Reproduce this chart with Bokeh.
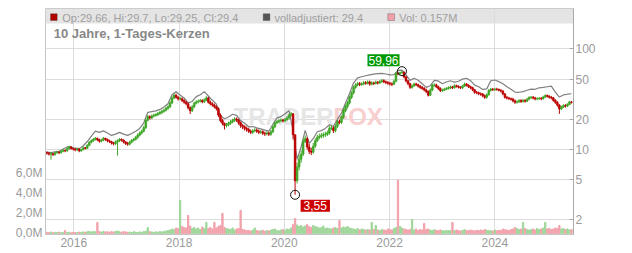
import pandas as pd
from bokeh.plotting import figure
from bokeh.models import (Range1d, LinearAxis, LinearScale, FixedTicker, CustomJSTickFormatter,
                          Label, BoxAnnotation, ColumnDataSource, PrintfTickFormatter)
from bokeh.embed import file_html
from bokeh.resources import INLINE

# ---------------- data ----------------
START = "2015-06-29"          # first candle, one candle per 14 days
first_open = 9.3
closes = [
    9.2, 9.0, 9.1, 8.9, 9.3, 9.4, 9.3, 9.6, 9.8, 9.7, 10.2, 10.6, 10.2, 10.1, 9.9, 10.1, 9.7, 10.0, 10.4, 10.3,
    11.0, 11.8, 12.2, 12.6, 12.9, 12.5, 12.1, 12.4, 12.9, 12.6, 12.2, 12.0, 11.6, 11.4, 11.9, 12.2, 12.6, 12.4, 11.9, 11.5,
    11.3, 11.8, 12.3, 12.6, 13.2, 13.9, 14.6, 15.2, 16.5, 19.5, 21.2, 20.6, 21.5, 21.9, 22.2, 22.8, 23.3, 24.0, 24.6, 25.6,
    26.5, 29.0, 32.5, 34.5, 33.0, 31.8, 32.0, 30.6, 29.5, 28.5, 26.0, 24.3, 26.5, 28.8, 29.6, 30.2, 30.6, 29.8, 31.0, 32.5,
    29.5, 28.4, 27.6, 26.6, 25.5, 22.0, 19.4, 18.2, 17.3, 17.6, 18.2, 18.8, 19.4, 20.1, 19.6, 18.4, 17.3, 16.8, 16.2, 15.8,
    15.2, 14.8, 15.3, 15.6, 15.2, 14.8, 15.0, 14.5, 14.3, 14.6, 14.2, 15.0, 16.8, 18.4, 18.9, 19.3, 19.6, 19.2, 19.8, 20.6,
    22.0, 22.6, 14.0, 4.9, 6.7, 8.0, 9.0, 12.0, 12.8, 10.6, 9.6, 9.4, 10.8, 12.2, 13.2, 13.5, 13.8, 14.0, 14.2, 14.6,
    16.2, 16.4, 15.4, 17.0, 19.0, 18.6, 21.0, 24.3, 26.8, 29.0, 33.0, 36.5, 41.4, 43.8, 45.0, 44.2, 44.7, 46.0, 45.4, 46.8,
    44.6, 45.8, 45.2, 46.6, 45.8, 47.2, 48.2, 47.0, 46.2, 45.6, 44.8, 44.5, 47.5, 57.0, 56.2, 57.8, 58.9, 52.5, 48.0, 45.0,
    41.4, 42.8, 44.7, 44.0, 42.6, 41.4, 40.4, 39.0, 37.6, 34.6, 39.0, 43.4, 43.8, 42.0, 40.4, 38.4, 38.8, 39.7, 40.2, 41.0,
    41.8, 41.0, 43.0, 42.4, 41.6, 41.0, 42.6, 44.7, 43.4, 42.0, 41.0, 39.2, 37.0, 36.6, 35.8, 35.4, 34.2, 33.0, 35.0, 38.6,
    39.7, 39.2, 39.8, 39.4, 38.8, 38.0, 35.6, 33.0, 32.4, 32.0, 31.6, 30.4, 29.4, 29.8, 30.6, 30.0, 30.6, 30.2, 31.6, 32.8,
    33.0, 32.4, 31.8, 32.0, 32.2, 32.0, 33.2, 34.3, 33.8, 33.0, 32.6, 30.8, 29.4, 27.6, 25.3, 26.4, 27.3, 27.0, 28.0, 29.7, 29.4,
]
highs = [
    9.6, 9.4, 9.4, 9.3, 9.5, 9.7, 9.6, 9.8, 10.1, 10.0, 10.5, 10.9, 10.8, 10.4, 10.3, 10.4, 10.2, 10.2, 10.7, 10.6,
    11.3, 12.1, 12.6, 13.0, 13.3, 13.1, 12.8, 12.8, 13.3, 13.1, 12.8, 12.5, 12.2, 11.9, 12.3, 12.6, 13.0, 12.9, 12.6, 12.1,
    11.9, 12.2, 12.7, 13.0, 13.6, 14.4, 15.1, 15.8, 17.2, 20.2, 22.0, 21.8, 22.3, 22.7, 23.0, 23.6, 24.2, 24.9, 25.5, 26.6,
    27.6, 30.2, 33.8, 36.0, 35.8, 34.2, 33.4, 32.8, 31.6, 30.4, 29.2, 26.8, 27.6, 29.8, 30.8, 31.4, 31.8, 31.6, 32.2, 33.8,
    33.4, 30.6, 29.4, 28.6, 27.4, 26.2, 22.8, 20.2, 18.5, 18.3, 18.9, 19.6, 20.2, 20.9, 20.8, 20.2, 19.0, 17.9, 17.4, 16.9,
    16.4, 15.8, 15.9, 16.3, 16.2, 15.8, 15.6, 15.5, 15.0, 15.2, 15.0, 15.6, 17.4, 19.1, 19.6, 20.0, 20.4, 20.2, 20.6, 21.4,
    22.8, 23.6, 23.0, 14.0, 7.4, 8.8, 9.8, 12.8, 13.8, 13.2, 11.4, 10.4, 11.6, 12.9, 14.0, 14.4, 14.6, 14.8, 15.0, 15.4,
    17.2, 17.4, 17.0, 17.8, 19.8, 19.8, 21.8, 25.4, 28.0, 30.4, 34.4, 38.0, 43.0, 45.6, 47.0, 46.8, 46.6, 48.0, 47.8, 48.6,
    48.4, 47.6, 47.2, 48.4, 48.0, 49.0, 50.2, 49.8, 48.4, 47.8, 47.0, 46.4, 49.4, 58.6, 58.8, 59.2, 59.96, 59.0, 53.6, 49.0,
    46.0, 44.2, 46.2, 46.0, 45.0, 43.6, 42.6, 41.6, 40.2, 38.6, 40.4, 44.8, 45.4, 45.0, 43.0, 41.4, 40.2, 41.0, 41.6, 42.4,
    43.0, 42.8, 44.4, 44.0, 43.4, 42.4, 43.8, 46.0, 45.6, 44.4, 43.0, 42.0, 40.0, 38.2, 37.6, 36.8, 36.4, 35.2, 36.0, 39.8,
    40.8, 40.8, 41.0, 41.0, 40.4, 39.8, 38.8, 36.4, 34.0, 33.4, 32.8, 32.6, 31.4, 30.8, 31.6, 31.6, 31.8, 31.6, 32.6, 33.8,
    34.0, 34.0, 33.4, 33.0, 33.2, 33.2, 34.2, 35.2, 35.2, 34.6, 34.0, 33.2, 31.6, 30.2, 28.2, 27.2, 28.2, 28.2, 28.8, 30.4, 30.2,
]
lows = [
    8.9, 8.7, 7.9, 8.6, 8.7, 9.1, 9.0, 9.1, 9.4, 9.4, 9.5, 10.0, 10.0, 9.8, 9.6, 9.7, 9.4, 9.5, 9.8, 10.0,
    10.1, 10.8, 11.5, 11.9, 12.3, 12.1, 11.7, 11.8, 12.1, 12.2, 11.8, 11.6, 11.2, 11.0, 11.1, 8.7, 11.9, 12.0, 11.5, 11.1,
    10.9, 11.0, 11.5, 12.0, 12.3, 12.8, 13.5, 14.1, 14.8, 16.0, 19.0, 19.8, 20.0, 20.9, 21.2, 21.5, 22.0, 22.5, 23.2, 23.8,
    24.8, 25.8, 28.2, 31.6, 32.0, 30.6, 30.8, 29.6, 28.5, 27.4, 25.0, 22.5, 23.5, 25.8, 28.0, 28.8, 29.4, 28.8, 28.9, 30.2,
    28.6, 27.4, 26.6, 25.6, 24.4, 21.0, 18.6, 17.4, 15.8, 16.6, 17.0, 17.6, 18.2, 18.8, 18.8, 17.6, 16.4, 15.9, 15.4, 15.0,
    14.6, 14.2, 14.3, 14.9, 14.6, 14.2, 14.3, 13.9, 13.6, 13.8, 13.6, 13.7, 14.6, 16.3, 17.9, 18.3, 18.6, 18.5, 18.7, 19.3,
    19.8, 21.2, 12.6, 3.55, 4.6, 6.2, 7.4, 8.6, 11.6, 10.0, 9.0, 8.8, 9.1, 10.4, 11.8, 12.6, 12.9, 13.1, 13.3, 13.6,
    14.0, 15.6, 14.6, 14.8, 16.4, 17.8, 18.0, 20.2, 23.4, 25.6, 28.0, 31.8, 35.2, 40.0, 42.4, 42.6, 42.8, 43.6, 44.0, 44.2,
    43.0, 43.4, 43.6, 44.4, 44.2, 44.8, 46.0, 45.6, 44.6, 43.8, 43.0, 42.6, 43.6, 46.6, 54.6, 55.0, 57.0, 51.0, 46.4, 43.4,
    40.0, 40.2, 41.8, 42.6, 41.2, 40.0, 39.2, 37.8, 36.2, 33.6, 34.0, 37.8, 42.0, 40.8, 39.0, 37.2, 37.4, 38.0, 38.8, 39.4,
    39.8, 39.8, 40.2, 41.2, 40.4, 39.8, 40.0, 41.8, 42.2, 40.8, 39.8, 38.0, 35.8, 35.4, 34.6, 34.2, 33.0, 31.8, 32.0, 34.2,
    37.6, 38.2, 38.2, 38.4, 37.8, 36.8, 34.6, 32.0, 31.4, 31.0, 30.6, 29.4, 28.4, 28.6, 29.0, 29.0, 29.2, 29.2, 29.6, 30.8,
    31.8, 31.4, 30.8, 30.8, 31.0, 30.8, 31.2, 32.4, 32.8, 32.0, 31.4, 29.8, 28.4, 26.6, 22.6, 24.6, 25.8, 26.0, 26.4, 27.6, 28.6,
]
# "volladjustiert" line, one point per 28 days
adjusted = [
    9.4, 9.3, 9.5, 9.6, 10.1, 10.6, 10.6, 10.3, 10.2, 10.9, 12.0, 13.6, 15.2, 14.8, 15.3, 14.6, 13.8, 14.2, 14.8, 14.2,
    13.8, 14.4, 15.2, 16.2, 18.4, 23.4, 23.8, 24.2, 25.0, 26.4, 28.5, 35.0, 37.5, 34.8, 32.5, 29.0, 30.0, 33.5, 35.0, 37.5,
    34.0, 30.8, 28.2, 21.7, 20.2, 21.0, 22.4, 21.8, 19.4, 18.2, 16.8, 16.9, 16.4, 16.0, 15.6, 15.2, 17.8, 20.6, 21.2, 22.6,
    24.3, 15.5, 8.0, 10.6, 15.5, 11.5, 12.8, 15.0, 15.4, 16.2, 17.6, 17.0, 20.0, 23.0, 29.0, 36.0, 46.0, 51.5, 52.8, 54.0,
    55.0, 56.0, 56.8, 57.0, 56.2, 55.0, 55.5, 61.0, 61.5, 55.0, 48.6, 51.0, 48.8, 45.0, 41.4, 43.0, 48.5, 48.0, 45.0, 46.8,
    48.2, 46.6, 47.6, 50.0, 51.0, 48.2, 43.6, 42.0, 39.5, 40.0, 48.2, 49.0, 47.2, 45.0, 42.0, 39.6, 37.2, 37.0, 37.6, 38.8,
    39.8, 39.6, 41.0, 41.4, 42.0, 42.6, 37.2, 33.2, 34.8, 35.4, 35.8,
]
# volume in millions, one bar per candle
volume_m = [
    0.12, 0.10, 0.15, 0.08, 0.12, 0.10, 0.14, 0.09, 0.11, 0.30, 0.10, 0.13, 0.08, 0.12, 0.10, 0.09, 0.14, 0.11, 0.16, 0.12,
    0.18, 0.22, 0.15, 0.20, 0.17, 1.10, 0.19, 0.14, 0.21, 0.16, 0.18, 0.13, 0.20, 0.15, 0.22, 0.25, 0.17, 0.14, 0.19, 0.16,
    0.12, 0.15, 0.10, 0.18, 0.14, 0.11, 0.16, 0.13, 0.20, 0.22, 0.60, 0.18, 0.15, 0.12, 0.17, 0.14, 0.19, 0.16, 0.21, 0.25,
    0.30, 0.35, 0.45, 0.40, 0.55, 0.50, 3.30, 0.70, 0.60, 0.55, 1.80, 0.75, 0.50, 0.60, 0.45, 0.55, 0.40, 0.65, 0.50, 1.10,
    0.50, 0.60, 0.45, 1.10, 0.55, 0.70, 0.80, 2.00, 0.60, 0.50, 0.45, 0.40, 0.55, 0.35, 0.45, 0.50, 2.30, 0.40, 0.35, 0.30,
    0.30, 0.25, 0.35, 0.55, 0.30, 0.25, 0.28, 0.32, 0.22, 0.30, 0.26, 0.35, 0.40, 0.45, 0.30, 0.28, 0.35, 0.40, 0.32, 0.45,
    0.40, 0.55, 0.90, 1.50, 0.85, 0.70, 0.80, 0.65, 0.75, 0.90, 0.70, 0.60, 0.80, 0.70, 0.65, 0.55, 0.60, 0.75, 0.50, 0.55,
    0.50, 0.45, 0.55, 0.60, 0.50, 1.30, 0.55, 0.65, 0.60, 0.70, 0.55, 0.50, 0.45, 0.40, 0.50, 0.35, 0.45, 0.40, 0.35, 0.40,
    0.35, 1.10, 0.40, 0.80, 0.35, 0.30, 0.40, 0.35, 0.30, 0.45, 0.40, 0.35, 0.50, 0.60, 5.30, 0.70, 0.55, 0.45, 0.40, 0.35,
    0.40, 1.40, 0.35, 0.45, 0.30, 0.40, 0.35, 1.00, 0.40, 0.45, 0.35, 0.30, 0.38, 0.32, 0.28, 0.35, 0.30, 0.25, 0.32, 0.28,
    0.30, 1.10, 0.28, 0.35, 0.30, 0.25, 0.32, 0.38, 0.30, 0.28, 0.35, 0.30, 0.25, 0.32, 0.28, 0.35, 0.30, 0.40, 0.32, 0.28,
    0.30, 0.25, 0.35, 0.28, 0.32, 0.30, 0.45, 0.38, 0.35, 0.30, 0.40, 0.45, 0.60, 0.50, 0.40, 0.45, 1.10, 0.50, 0.40, 0.35,
    0.40, 0.45, 0.35, 0.50, 0.40, 0.45, 0.55, 1.10, 0.45, 0.50, 0.40, 0.45, 0.55, 0.50, 0.80, 0.45, 0.50, 0.40, 0.45, 0.35, 0.40,
]

price_ticks = [2, 5, 10, 20, 50, 100]
volume_ticks = [0, 2, 4, 6]
year_ticks = ["2016-01-01", "2018-01-01", "2020-01-01", "2022-01-01", "2024-01-01"]

header_ohlc = "Op:29.66, Hi:29.7, Lo:29.25, Cl:29.4"
header_adj = "volladjustiert: 29.4"
header_vol = "Vol: 0.157M"
chart_title = "10 Jahre, 1-Tages-Kerzen"
watermark_a, watermark_b = "TRADER", "FOX"

# ---------------- derived ----------------
DAY = 86400000
dates = pd.date_range(START, periods=len(closes), freq="14D")
adj_dates = pd.date_range(START, periods=len(adjusted), freq="28D")
opens = [first_open] + closes[:-1]
up = [c >= o for o, c in zip(opens, closes)]
RED, GREEN = "#bb0000", "#3ea626"
cndl_col = [GREEN if u else RED for u in up]
vol_col = ["#9fd69a" if u else "#f2a2ab" for u in up]

candles = ColumnDataSource(dict(
    x=dates, top=[max(o, c) for o, c in zip(opens, closes)],
    bottom=[min(o, c) for o, c in zip(opens, closes)], hi=highs, lo=lows, color=cndl_col))
vols = ColumnDataSource(dict(x=dates, top=volume_m, color=vol_col))

FONT = "Liberation Sans"
GRAY_TXT = "#9a9a9a"

p = figure(width=632, height=253, x_axis_type="datetime", y_axis_type="log",
           x_range=Range1d(pd.Timestamp("2015-06-19"), pd.Timestamp("2025-06-30")),
           y_range=Range1d(1.432, 251.3), y_axis_location="right",
           output_backend="svg", toolbar_location=None,
           min_border_left=45, min_border_right=59, min_border_top=8, min_border_bottom=19)
p.extra_y_ranges = {"vol": Range1d(-0.1, 22.35)}
p.extra_y_scales = {"vol": LinearScale()}
p.outline_line_color = "#c4c4c4"
p.background_fill_color = "white"
p.border_fill_color = "white"

# header band
p.add_layout(BoxAnnotation(left=0, right=528, top=226, bottom=211, left_units="screen", right_units="screen",
                           top_units="screen", bottom_units="screen", fill_color="#e4e4e4", fill_alpha=1,
                           line_color=None, level="image"))

# grids
yr_ms = [pd.Timestamp(d).value // 10**6 for d in year_ticks]
p.xgrid.ticker = FixedTicker(ticks=yr_ms)
p.ygrid.ticker = FixedTicker(ticks=price_ticks)
for g in (p.xgrid[0], p.ygrid[0]):
    g.grid_line_color = "#dcdcdc"
    g.grid_line_width = 1

# right price axis
ya = p.yaxis[0]
ya.ticker = FixedTicker(ticks=price_ticks)
ya.formatter = PrintfTickFormatter(format="%d")
ya.axis_line_color = "#aaaaaa"
ya.major_tick_line_color = "#aaaaaa"
ya.major_tick_in = 4
ya.major_tick_out = 0
ya.minor_tick_line_color = None
ya.major_label_standoff = 2
ya.major_label_text_color = GRAY_TXT
ya.major_label_text_font = FONT
ya.major_label_text_font_size = "12px"

# bottom axis
xa = p.xaxis[0]
xa.ticker = FixedTicker(ticks=yr_ms)
xa.formatter = CustomJSTickFormatter(code="return String(new Date(tick).getUTCFullYear());")
xa.axis_line_color = None
xa.major_tick_line_color = None
xa.minor_tick_line_color = None
xa.major_tick_out = 0
xa.major_tick_in = 0
xa.major_label_standoff = 3
xa.major_label_text_color = GRAY_TXT
xa.major_label_text_font = FONT
xa.major_label_text_font_size = "12px"

# left volume axis
va = LinearAxis(y_range_name="vol", ticker=FixedTicker(ticks=volume_ticks),
                formatter=CustomJSTickFormatter(code="return tick.toFixed(1).replace('.', ',') + 'M';"))
va.axis_line_color = None
va.major_tick_line_color = None
va.minor_tick_line_color = None
va.major_tick_out = 0
va.major_tick_in = 0
va.major_label_standoff = 3
va.major_label_text_color = GRAY_TXT
va.major_label_text_font = FONT
va.major_label_text_font_size = "12px"
p.add_layout(va, "left")

# watermark
p.add_layout(Label(x=188, y=118.5, x_units="screen", y_units="screen", text=watermark_a,
                   text_font=FONT, text_font_style="bold", text_font_size="24px",
                   text_color="#e6e6e6", text_baseline="middle", level="underlay"))
p.add_layout(Label(x=288, y=118.5, x_units="screen", y_units="screen", text=watermark_b,
                   text_font=FONT, text_font_style="bold", text_font_size="24px",
                   text_color="#f7cfcf", text_baseline="middle", level="underlay"))

# volume bars
p.vbar(x="x", top="top", bottom=0, width=9 * DAY, color="color", source=vols, y_range_name="vol")

# adjusted line
p.line(adj_dates, adjusted, line_color="#808080", line_width=1.2)

# candles
p.segment(x0="x", y0="lo", x1="x", y1="hi", line_color="color", line_width=1, source=candles)
p.vbar(x="x", top="top", bottom="bottom", width=11 * DAY, fill_color="color", line_color="color",
       line_width=0.8, source=candles)

# extremes
hi_i = highs.index(max(highs))
lo_i = lows.index(min(lows))
hi_date, hi_val = dates[hi_i], highs[hi_i]
lo_date, lo_val = dates[lo_i], lows[lo_i]
p.scatter([hi_date, lo_date], [hi_val, lo_val], marker="circle", size=9, fill_color=None,
          line_color="#111111", line_width=1)
p.add_layout(Label(x=hi_date, y=hi_val, text=f"{hi_val:.2f}".replace(".", ","), text_color="white",
                   text_font=FONT, text_font_size="12px", text_align="right", text_baseline="bottom",
                   x_offset=-2.5, y_offset=5, background_fill_color="#009900",
                   padding=dict(left=1, right=1, top=2, bottom=1)))
p.add_layout(Label(x=lo_date, y=lo_val, text=f"{lo_val:.2f}".replace(".", ","), text_color="white",
                   text_font=FONT, text_font_size="12px", text_align="left", text_baseline="top",
                   x_offset=5.5, y_offset=-5, background_fill_color="#cc0000",
                   padding=dict(left=3, right=3, top=1, bottom=2)))

# header legend
for left, fill, txt, tx in ((5, "#b00000", header_ohlc, 16.7), (217.7, "#555555", header_adj, 229),
                            (342.3, "#f0a0a8", header_vol, 353.7)):
    p.add_layout(BoxAnnotation(left=left, right=left + 6.7, top=220.7, bottom=214, left_units="screen",
                               right_units="screen", top_units="screen", bottom_units="screen",
                               fill_color=fill, fill_alpha=1, line_color="#333333", line_width=1))
    p.add_layout(Label(x=tx, y=216.7, x_units="screen", y_units="screen", text=txt, text_font=FONT,
                       text_font_size="11px", text_color="#a0a0a0", text_baseline="middle"))
p.add_layout(Label(x=8.3, y=200.7, x_units="screen", y_units="screen", text=chart_title, text_font=FONT,
                   text_font_size="13px", text_font_style="bold", text_color="#888888", text_baseline="middle"))

open("out.html", "w").write(file_html(p, INLINE))
